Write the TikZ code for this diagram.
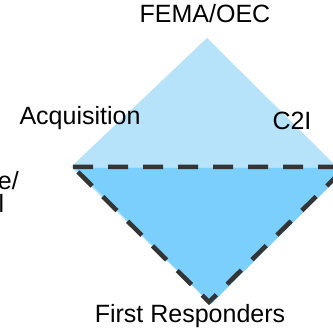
\documentclass[tikz,border=0pt]{standalone}
\usepackage{fontspec}
\setmainfont{Liberation Sans}
\definecolor{lightblue}{RGB}{182,226,250}
\definecolor{midblue}{RGB}{122,207,253}
\definecolor{dashgray}{RGB}{52,52,52}
\tikzset{
  lbl/.style={inner sep=0pt, font=\fontsize{25}{30}\selectfont, text=black},
  dashedge/.style={draw=dashgray, line width=4.5pt, dash pattern=on 20pt off 15pt, line join=miter}
}
\begin{document}
\begin{tikzpicture}[x=1pt,y=-1pt]
\useasboundingbox (0,0) rectangle (333,331);
\begin{scope}
\clip (0,0) rectangle (333,331);
% light diamond
\fill[lightblue] (207,38) -- (337,167) -- (206,299) -- (71,167) -- cycle;
% darker lower triangle
\fill[midblue] (75,168) -- (348,168) -- (211,304) -- cycle;
% dashed triangle
\coordinate (tl) at (73,167);
\coordinate (tr) at (346,167);
\coordinate (tb) at (209,302);
\draw[dashedge] (tl) -- (tr) -- (tb) -- cycle;
\end{scope}
\node[lbl, anchor=base] (fema) at (205,23) {FEMA/OEC};
\node[lbl, anchor=base] (acq) at (80,125) {Acquisition};
\node[lbl, anchor=base] (c2i) at (292,130) {C2I};
\node[lbl, anchor=base east] (gov1) at (19,190) {e/};
\node[lbl, anchor=base west] (gov2) at (-1.5,213) {l};
\node[lbl, anchor=base] (fr) at (190,323) {First Responders};
\end{tikzpicture}
\end{document}
